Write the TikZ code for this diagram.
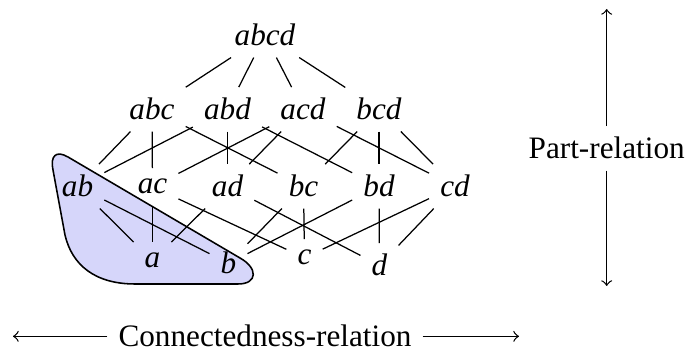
\documentclass[tikz,border=0pt]{standalone}
\usepackage{fontspec}
\setmainfont{Liberation Serif}
\definecolor{blobfill}{RGB}{214,214,250}
\begin{document}
\begin{tikzpicture}[x=0.3205pt,y=-0.3205pt,
  lbl/.style={anchor=base,inner sep=3.4pt,font=\fontsize{10}{12}\selectfont\itshape},
  txt/.style={anchor=base,inner sep=3.4pt,font=\fontsize{10}{12}\selectfont},
  edge/.style={line width=0.4pt},
  rel/.style={line width=0.4pt,->}]
\useasboundingbox (0,0) rectangle (687,352);
% highlighted region
\fill[blobfill,draw=black,line width=0.5pt]
  (53,170) .. controls (50,156) and (56,150) .. (68,157)
  -- (240,258)
  .. controls (258,268) and (258,284) .. (238,284)
  -- (135,284)
  .. controls (95,284) and (72,265) .. (65,235)
  -- cycle;
% nodes
\node[lbl] (abcd) at (265,46) {abcd};
\node[lbl] (abc) at (152,120) {abc};
\node[lbl] (abd) at (227.5,120) {abd};
\node[lbl] (acd) at (303,120) {acd};
\node[lbl] (bcd) at (379,120) {bcd};
\node[lbl] (ab) at (77.5,197) {ab};
\node[lbl] (ac) at (152.5,194) {ac};
\node[lbl] (ad) at (227.5,197) {ad};
\node[lbl] (bc) at (303.5,197) {bc};
\node[lbl] (bd) at (379,197) {bd};
\node[lbl] (cd) at (455,197) {cd};
\node[lbl] (a) at (152.5,268) {a};
\node[lbl] (b) at (228.5,274) {b};
\node[lbl] (c) at (304.5,265) {c};
\node[lbl] (d) at (379.5,276) {d};
% edges
\foreach \u/\v in {abcd/abc,abcd/abd,abcd/acd,abcd/bcd,
  abc/ab,abc/ac,abc/bc,abd/ab,abd/ad,abd/bd,acd/ac,acd/ad,acd/cd,bcd/bc,bcd/bd,bcd/cd,
  ab/a,ab/b,ac/a,ac/c,ad/a,ad/d,bc/b,bc/c,bd/b,bd/d,cd/c,cd/d}
  \draw[edge] (\u) -- (\v);
% relation arrows
\node[txt] (part) at (606.7,159) {Part-relation};
\coordinate (ptop) at (606.7,9);
\coordinate (pbot) at (606.7,286);
\draw[rel] (part.north) -- (ptop);
\draw[rel] (part.south) -- (pbot);
\node[txt] (conn) at (265,347) {Connectedness-relation};
\coordinate (cleft) at (13,338);
\coordinate (cright) at (519,338);
\draw[rel] (conn.west) -- (conn.west -| cleft);
\draw[rel] (conn.east) -- (conn.east -| cright);
\end{tikzpicture}
\end{document}
